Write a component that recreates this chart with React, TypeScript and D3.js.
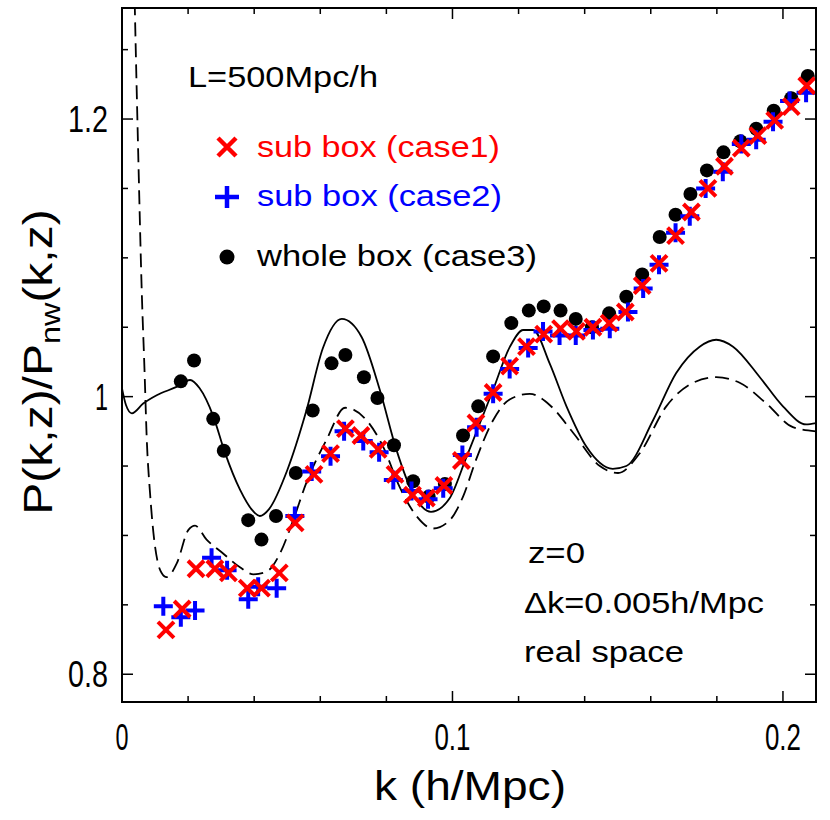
import React from 'react';
import * as d3 from 'd3';

const W = 830;
const H = 820;
const PLOT = { left: 122, right: 816, top: 8, bottom: 702 };
const X_DOMAIN = [0, 0.21];
const Y_DOMAIN = [0.78, 1.28];

// sub box (case1) - red crosses
const case1K = [0.0133,0.0182,0.0224,0.0281,0.0322,0.0379,0.0422,0.0476,0.0524,0.0581,0.0631,0.0676,0.0723,0.0775,0.0826,0.0879,0.0921,0.0974,0.1027,0.1071,0.1123,0.1173,0.1224,0.1276,0.1327,0.1375,0.1425,0.1474,0.1523,0.1574,0.1625,0.1675,0.1723,0.1773,0.1823,0.1874,0.1924,0.1975,0.2025,0.2072];
const case1P = [0.832,0.847,0.876,0.876,0.873,0.862,0.862,0.873,0.909,0.944,0.959,0.977,0.972,0.962,0.944,0.929,0.927,0.936,0.954,0.981,1.003,1.022,1.036,1.045,1.049,1.047,1.050,1.053,1.061,1.080,1.096,1.116,1.133,1.150,1.166,1.179,1.188,1.199,1.209,1.224];

// sub box (case2) - blue pluses
const case2K = [0.0125,0.0178,0.0221,0.0271,0.0318,0.0382,0.0412,0.0468,0.0523,0.0574,0.0631,0.0672,0.0730,0.0778,0.0821,0.0876,0.0926,0.0972,0.1030,0.1073,0.1123,0.1173,0.1229,0.1274,0.1324,0.1373,0.1425,0.1476,0.1531,0.1577,0.1625,0.1675,0.1718,0.1766,0.1818,0.1874,0.1919,0.1970,0.2020,0.2070];
const case2P = [0.849,0.841,0.846,0.884,0.875,0.854,0.863,0.862,0.914,0.946,0.957,0.975,0.968,0.960,0.940,0.932,0.926,0.934,0.958,0.978,1.002,1.020,1.035,1.047,1.044,1.044,1.048,1.049,1.061,1.078,1.095,1.118,1.130,1.150,1.162,1.182,1.185,1.198,1.213,1.219];

// whole box (case3) - black dots
const case3K = [0.0178,0.0218,0.0276,0.0308,0.0382,0.0422,0.0466,0.0526,0.0577,0.0634,0.0676,0.0732,0.0773,0.0823,0.0881,0.0928,0.0977,0.1032,0.1078,0.1123,0.1178,0.1231,0.1276,0.1327,0.1373,0.1422,0.1474,0.1526,0.1574,0.1627,0.1675,0.1720,0.1770,0.1820,0.1871,0.1919,0.1972,0.2025,0.2075];
const case3P = [1.011,1.026,0.984,0.961,0.911,0.897,0.914,0.945,0.990,1.024,1.030,1.014,0.999,0.965,0.939,0.928,0.937,0.972,0.993,1.029,1.053,1.062,1.065,1.062,1.056,1.050,1.060,1.072,1.088,1.115,1.131,1.146,1.163,1.176,1.184,1.193,1.206,1.215,1.231];

// solid model curve
const solidK = [0,0.0012,0.003,0.0064,0.0105,0.0165,0.0206,0.0235,0.0276,0.0311,0.0357,0.0395,0.0417,0.0445,0.050,0.0558,0.0608,0.0665,0.0725,0.0780,0.0830,0.0881,0.0935,0.0992,0.104,0.1123,0.1174,0.1214,0.1244,0.1294,0.1345,0.1405,0.1485,0.1526,0.1607,0.1677,0.1748,0.1798,0.1849,0.193,0.200,0.207,0.21];
const solidP = [1.006,0.994,0.988,0.995,1.001,1.007,1.012,1.006,0.986,0.960,0.933,0.918,0.914,0.919,0.947,0.990,1.035,1.056,1.043,1.005,0.962,0.930,0.917,0.927,0.955,1.005,1.036,1.048,1.048,1.024,0.993,0.964,0.948,0.950,0.983,1.017,1.036,1.041,1.036,1.014,0.993,0.980,0.981];

// dashed model curve
const dashK = [0.0037,0.0039,0.0049,0.0060,0.0068,0.0075,0.0085,0.0095,0.0107,0.012,0.0135,0.0166,0.0201,0.0221,0.0256,0.0306,0.0357,0.0398,0.0438,0.0478,0.0518,0.0558,0.0619,0.0675,0.0740,0.0790,0.0840,0.0891,0.0941,0.0992,0.1032,0.1072,0.1123,0.1173,0.1234,0.1294,0.1365,0.1446,0.1501,0.1566,0.1647,0.1728,0.1798,0.1869,0.1950,0.2030,0.21];
const dashP = [1.30,1.278,1.176,1.074,1.02,0.969,0.93,0.902,0.882,0.873,0.870,0.880,0.904,0.907,0.897,0.887,0.877,0.872,0.874,0.887,0.911,0.938,0.969,0.992,0.983,0.964,0.935,0.914,0.905,0.911,0.928,0.955,0.983,0.998,1.002,0.994,0.974,0.950,0.945,0.959,0.993,1.010,1.014,1.010,0.995,0.978,0.975];

const xMajorTicks = [0, 0.1, 0.2];
const xTickLabels = ['0', '0.1', '0.2'];
const xMinorTicks = [0.02, 0.04, 0.06, 0.08, 0.12, 0.14, 0.16, 0.18];
const yMajorTicks = [0.8, 1, 1.2];
const yTickLabels = ['0.8', '1', '1.2'];
const yMinorTicks = [0.85, 0.9, 0.95, 1.05, 1.1, 1.15, 1.25];

const legendLabels = ['sub box (case1)', 'sub box (case2)', 'whole box (case3)'];

const FONT = '"Liberation Sans", Arial, Helvetica, sans-serif';
const RED = '#ff0000';
const BLUE = '#0000ff';

export default function App() {
  const x = d3.scaleLinear().domain(X_DOMAIN).range([PLOT.left, PLOT.right]);
  const y = d3.scaleLinear().domain(Y_DOMAIN).range([PLOT.bottom, PLOT.top]);

  const line = d3.line<[number, number]>()
    .x(d => x(d[0]))
    .y(d => y(d[1]))
    .curve(d3.curveMonotoneX);

  const solidPath = line(solidK.map((k, i) => [k, solidP[i]]) as [number, number][]) || '';
  const dashPath = line(dashK.map((k, i) => [k, dashP[i]]) as [number, number][]) || '';

  const MAJ = 11;
  const MIN = 6;

  const crossPath = (cx: number, cy: number, s: number) =>
    `M${cx - s},${cy - s}L${cx + s},${cy + s}M${cx - s},${cy + s}L${cx + s},${cy - s}`;
  const plusPath = (cx: number, cy: number, sx: number, sy: number) =>
    `M${cx - sx},${cy}L${cx + sx},${cy}M${cx},${cy - sy}L${cx},${cy + sy}`;

  return (
    <svg width={W} height={H} style={{ position: 'absolute', left: 0, top: 0, background: '#fff' }}
      fontFamily={FONT}>
      <defs>
        <clipPath id="plotClip">
          <rect x={PLOT.left} y={PLOT.top} width={PLOT.right - PLOT.left} height={PLOT.bottom - PLOT.top} />
        </clipPath>
      </defs>
      <rect x={0} y={0} width={W} height={H} fill="#fff" />

      <g clipPath="url(#plotClip)">
        <path d={solidPath} fill="none" stroke="#000" strokeWidth={1.8} />
        <path d={dashPath} fill="none" stroke="#000" strokeWidth={1.8} strokeDasharray="14,7" />

        {case3K.map((k, i) => (
          <circle key={'c3' + i} cx={x(k)} cy={y(case3P[i])} r={7} fill="#000" />
        ))}
        {case2K.map((k, i) => (
          <path key={'c2' + i} d={plusPath(x(k), y(case2P[i]), 9.5, 9.5)} stroke={BLUE} strokeWidth={4} fill="none" />
        ))}
        {case1K.map((k, i) => (
          <path key={'c1' + i} d={crossPath(x(k), y(case1P[i]), 8)} stroke={RED} strokeWidth={4} fill="none" />
        ))}
      </g>

      {/* frame */}
      <rect x={PLOT.left} y={PLOT.top} width={PLOT.right - PLOT.left} height={PLOT.bottom - PLOT.top}
        fill="none" stroke="#000" strokeWidth={2} />

      {/* x ticks bottom & top */}
      {xMajorTicks.map((t, i) => (
        <g key={'xM' + i}>
          <line x1={x(t)} x2={x(t)} y1={PLOT.bottom} y2={PLOT.bottom - MAJ} stroke="#000" strokeWidth={1.5} />
          <line x1={x(t)} x2={x(t)} y1={PLOT.top} y2={PLOT.top + MAJ} stroke="#000" strokeWidth={1.5} />
          <text x={x(t)} y={750} fontSize={37} textAnchor="middle"
            textLength={xTickLabels[i].length === 1 ? 13 : 36} lengthAdjust="spacingAndGlyphs">{xTickLabels[i]}</text>
        </g>
      ))}
      {xMinorTicks.map((t, i) => (
        <g key={'xm' + i}>
          <line x1={x(t)} x2={x(t)} y1={PLOT.bottom} y2={PLOT.bottom - MIN} stroke="#000" strokeWidth={1.5} />
          <line x1={x(t)} x2={x(t)} y1={PLOT.top} y2={PLOT.top + MIN} stroke="#000" strokeWidth={1.5} />
        </g>
      ))}

      {/* y ticks left & right */}
      {yMajorTicks.map((t, i) => (
        <g key={'yM' + i}>
          <line x1={PLOT.left} x2={PLOT.left + MAJ} y1={y(t)} y2={y(t)} stroke="#000" strokeWidth={1.5} />
          <line x1={PLOT.right} x2={PLOT.right - MAJ} y1={y(t)} y2={y(t)} stroke="#000" strokeWidth={1.5} />
          <text x={108} y={y(t) + 13} fontSize={37} textAnchor="end"
            textLength={yTickLabels[i].length === 1 ? 13 : 40} lengthAdjust="spacingAndGlyphs">{yTickLabels[i]}</text>
        </g>
      ))}
      {yMinorTicks.map((t, i) => (
        <g key={'ym' + i}>
          <line x1={PLOT.left} x2={PLOT.left + MIN} y1={y(t)} y2={y(t)} stroke="#000" strokeWidth={1.5} />
          <line x1={PLOT.right} x2={PLOT.right - MIN} y1={y(t)} y2={y(t)} stroke="#000" strokeWidth={1.5} />
        </g>
      ))}

      {/* axis titles */}
      <text x={470} y={800} fontSize={40} textAnchor="middle" textLength={192} lengthAdjust="spacingAndGlyphs">k (h/Mpc)</text>
      <text transform="translate(52,362) rotate(-90) scale(1.2,1)" fontSize={40} textAnchor="middle">
        P(k,z)/P<tspan fontSize={27} dy={8}>nw</tspan><tspan dy={-8}>(k,z)</tspan>
      </text>

      {/* legend */}
      <text x={188} y={87} fontSize={30} textLength={190} lengthAdjust="spacingAndGlyphs">L=500Mpc/h</text>

      <path d={crossPath(227, 147, 9)} stroke={RED} strokeWidth={4.5} fill="none" />
      <text x={257} y={157} fontSize={30} fill={RED} textLength={243} lengthAdjust="spacingAndGlyphs">{legendLabels[0]}</text>

      <path d={plusPath(227, 197, 12, 11)} stroke={BLUE} strokeWidth={4.5} fill="none" />
      <text x={257} y={206} fontSize={30} fill={BLUE} textLength={245} lengthAdjust="spacingAndGlyphs">{legendLabels[1]}</text>

      <circle cx={227} cy={257} r={7.5} fill="#000" />
      <text x={257} y={266} fontSize={30} fill="#000" textLength={280} lengthAdjust="spacingAndGlyphs">{legendLabels[2]}</text>

      {/* annotations */}
      <text x={528} y={563} fontSize={29} textLength={57} lengthAdjust="spacingAndGlyphs">z=0</text>
      <text x={524} y={613} fontSize={29} textLength={240} lengthAdjust="spacingAndGlyphs">Δk=0.005h/Mpc</text>
      <text x={524} y={662} fontSize={29} textLength={160} lengthAdjust="spacingAndGlyphs">real space</text>
    </svg>
  );
}
